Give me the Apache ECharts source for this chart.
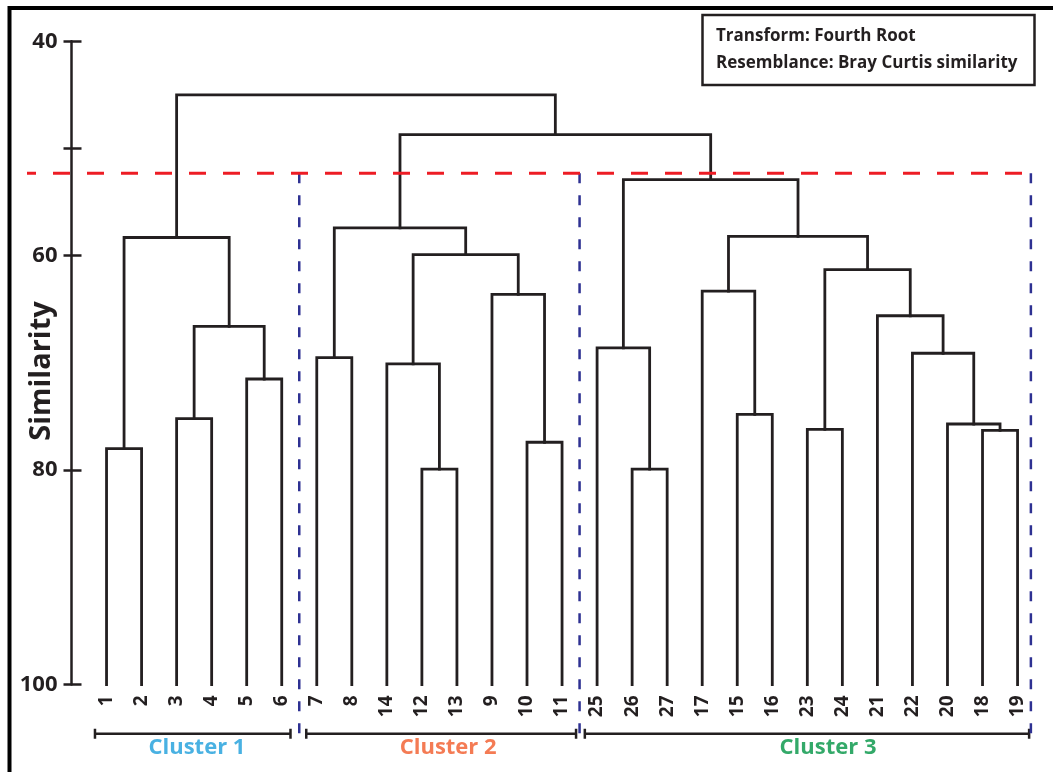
<!DOCTYPE html>
<html><head><meta charset="utf-8">
<script src="https://cdn.jsdelivr.net/npm/echarts@6/dist/echarts.min.js"></script>
<style>html,body{margin:0;padding:0;background:#fff}#c{width:1053px;height:772px}</style>
</head><body><div id="c"></div>
<script>
// ---------- data ----------
const leafLabels = ['1','2','3','4','5','6','7','8','14','12','13','9','10','11','25','26','27','17','15','16','23','24','21','22','20','18','19'];
// linkage: children are leaf indices (0..26) or node ids (27 + merge index)
const mergeLeft   = [0, 2, 4, 28, 27, 6, 9, 8, 12, 11, 34, 32, 15, 14, 18, 17, 20, 25, 24, 23, 22, 43, 42, 40, 38, 31];
const mergeRight  = [1, 3, 5, 29, 30, 7, 10, 33, 13, 35, 36, 37, 16, 39, 19, 41, 21, 26, 44, 45, 46, 47, 48, 49, 50, 51];
const mergeHeight = [78.0, 75.2, 71.5, 66.6, 58.3, 69.5, 79.9, 70.1, 77.4, 63.6, 59.9, 57.4, 79.9, 68.6, 74.8, 63.3, 76.2, 76.3, 75.7, 69.1, 65.6, 61.3, 58.2, 52.9, 48.7, 45.0];
const yTickValues = [40, 50, 60, 80, 100];
const yTickLabels = ['40', '', '60', '80', '100'];
const cutLevel = 52.3;
const clusterNames = ['Cluster 1', 'Cluster 2', 'Cluster 3'];
const clusterSizes = [6, 8, 13];
const clusterColors = ['#1b9ddb', '#f15a29', '#009444'];
const noteLines = ['Transform: Fourth Root', 'Resemblance: Bray Curtis similarity'];
const yAxisTitle = 'Similarity';

// ---------- layout / style ----------
const INK = '#231f20';
const FONT = '"Open Sans", Lato, sans-serif';
const BASE = 100;           // leaves start at the axis bottom
const BOX_BOTTOM = 105.45;  // dashed box bottom (below axis)
const BRACKET_Y = 104.6;
const CAP = 0.47;
const LABEL_Y = 105.9;

// build dendrogram coordinates
const nLeaf = leafLabels.length;
const nodeX = [], nodeH = [];
for (let i = 0; i < nLeaf; i++) { nodeX.push(i); nodeH.push(BASE); }
const series = [];
for (let k = 0; k < mergeHeight.length; k++) {
  const a = mergeLeft[k], b = mergeRight[k], h = mergeHeight[k];
  series.push({
    type: 'line', symbol: 'none', silent: true, animation: false,
    lineStyle: { color: INK, width: 2.8, cap: 'square', join: 'miter' },
    data: [[nodeX[a], nodeH[a]], [nodeX[a], h], [nodeX[b], h], [nodeX[b], nodeH[b]]]
  });
  nodeX.push((nodeX[a] + nodeX[b]) / 2);
  nodeH.push(h);
}

// cluster boundaries
const bounds = [];
let acc = 0;
for (const s of clusterSizes) { bounds.push([acc, acc + s - 1]); acc += s; }
const cutLeft = -2.27, cutRight = nLeaf - 1 + 0.38;
// red cut line (custom series so it may extend left of the axis)
series.push({
  type: 'custom', silent: true, animation: false, z: 5, clip: false,
  data: [[cutLeft, cutLevel, cutRight]],
  renderItem: (params, api) => {
    const p1 = api.coord([api.value(0), api.value(1)]);
    const p2 = api.coord([api.value(2), api.value(1)]);
    return { type: 'line', shape: { x1: p1[0], y1: p1[1], x2: p2[0], y2: p2[1] },
      style: { stroke: '#ed1c24', lineWidth: 3, lineDash: [17, 17], lineDashOffset: 8 } };
  }
});
// blue dashed verticals
const vX = [bounds[0][1] + 0.5, bounds[1][1] + 0.5, cutRight];
for (const x of vX) {
  series.push({
    type: 'line', symbol: 'none', clip: false, silent: true, animation: false, z: 4,
    lineStyle: { color: '#2e3192', width: 2.5, type: [10, 12] },
    data: [[x, cutLevel], [x, BOX_BOTTOM]]
  });
}
// brackets
const brk = [[-0.33, 5.25], [5.7, 13.4], [13.65, 26.33]];
const labelNudge = [0.12, 0.2, 0.6];
const labelPts = [];
brk.forEach((r, i) => {
  const [a, b] = r;
  series.push({
    type: 'line', symbol: 'none', clip: false, silent: true, animation: false,
    lineStyle: { color: INK, width: 2.5 },
    data: [[a, BRACKET_Y - CAP], [a, BRACKET_Y + CAP], [a, BRACKET_Y], [b, BRACKET_Y], [b, BRACKET_Y - CAP], [b, BRACKET_Y + CAP]]
  });
  labelPts.push({
    value: [(a + b) / 2 + labelNudge[i], LABEL_Y], name: clusterNames[i],
    label: { color: clusterColors[i] }
  });
});
series.push({
  type: 'scatter', clip: false, symbolSize: 0, silent: true, animation: false,
  label: { show: true, position: 'inside', formatter: p => p.name,
           fontFamily: FONT, fontWeight: 'bold', fontSize: 22 },
  data: labelPts
});

const chart = echarts.init(document.getElementById('c'), null, { renderer: 'canvas' });
const yCommon = { type: 'value', inverse: true, min: 40, max: 100, interval: 10, splitLine: { show: false } };
chart.setOption({
  backgroundColor: '#fff',
  animation: false,
  grid: { left: 71.5, right: 0.4, top: 41.3, bottom: 87.5 },
  xAxis: {
    type: 'value', min: -1, max: nLeaf, interval: 1,
    axisLine: { show: false }, axisTick: { show: false }, splitLine: { show: false },
    axisLabel: {
      rotate: 90, margin: 11, color: INK, fontFamily: FONT, fontWeight: 'bold', fontSize: 19,
      formatter: v => (v >= 0 && v < nLeaf ? leafLabels[v] : '')
    }
  },
  yAxis: [
    Object.assign({}, yCommon, {
      position: 'left',
      axisLine: { show: true, onZero: false, lineStyle: { color: INK, width: 2.5 } },
      axisTick: { show: true, length: 8, customValues: yTickValues, lineStyle: { color: INK, width: 2.5 } },
      axisLabel: { margin: 14, color: INK, fontFamily: FONT, fontWeight: 'bold', fontSize: 22,
        customValues: yTickValues,
        formatter: v => { const i = yTickValues.indexOf(v); return i >= 0 ? yTickLabels[i] : ''; } }
    }),
    Object.assign({}, yCommon, {
      position: 'left', offset: 0,
      axisLine: { show: false, onZero: false },
      axisTick: { show: true, inside: true, length: 10, customValues: yTickValues, lineStyle: { color: INK, width: 2.5 } },
      axisLabel: { show: false }
    })
  ],
  graphic: [
    { type: 'rect', shape: { x: 9.5, y: 8, width: 1200, height: 900 },
      style: { fill: 'none', stroke: '#000', lineWidth: 4 }, silent: true },
    { type: 'rect', shape: { x: 702.5, y: 15, width: 332, height: 70 },
      style: { fill: '#fff', stroke: INK, lineWidth: 2.5 }, silent: true },
    { type: 'text', x: 716, y: 36, silent: true,
      style: { text: noteLines[0], fill: INK, font: 'bold 17px ' + FONT, textVerticalAlign: 'middle' } },
    { type: 'text', x: 716, y: 63, silent: true,
      style: { text: noteLines[1], fill: INK, font: 'bold 17px ' + FONT, textVerticalAlign: 'middle' } },
    { type: 'text', x: 42, y: 371, rotation: Math.PI / 2, silent: true,
      style: { text: yAxisTitle, fill: INK, font: 'bold 29px ' + FONT, textAlign: 'center', textVerticalAlign: 'middle' } }
  ],
  series: series
});
</script></body></html>
